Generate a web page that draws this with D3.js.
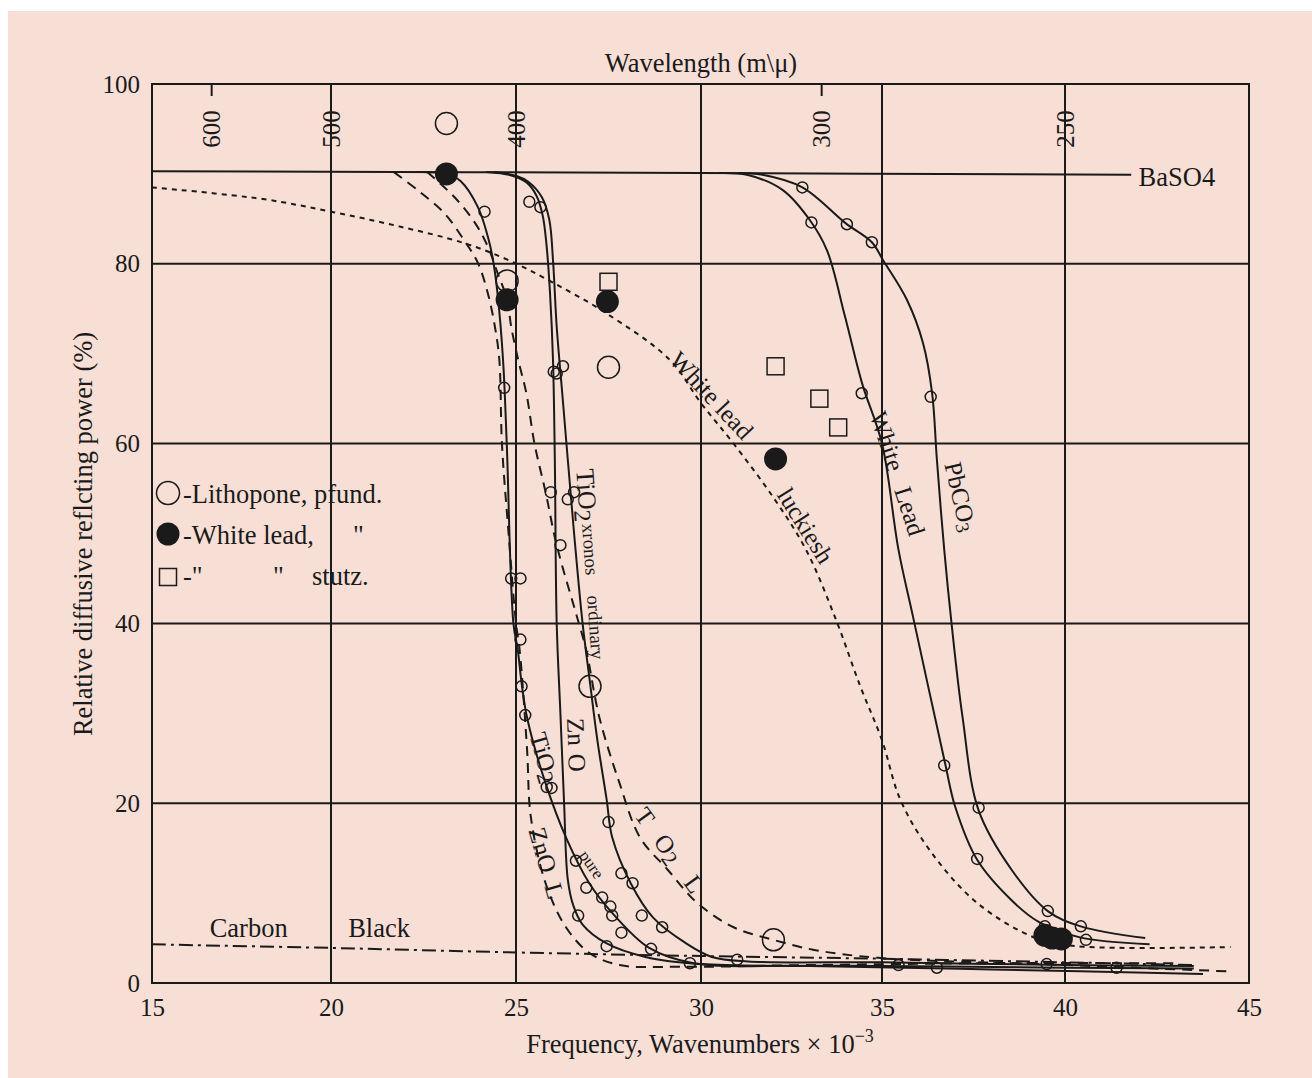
<!DOCTYPE html>
<html>
<head>
<meta charset="utf-8" />
<title>Relative diffusive reflecting power</title>
<script src="https://d3js.org/d3.v7.min.js"></script>
<style>
  body { margin: 0px; background-color: white; }
  text { font-family: "Liberation Serif", "Times New Roman", serif; fill: #1a1a1a; }
</style>
</head>
<body>
<svg id="chart"></svg>
<script>
// ---- data (frequency in wavenumbers x 10^-3, reflectance %) ----
var xTicks = [15, 20, 25, 30, 35, 40, 45];
var yTicks = [0, 20, 40, 60, 80, 100];
var wavelengthTicks = [600, 500, 400, 300, 250];

var baso4 = [[15, 90.3], [30, 90.1], [41.8, 89.9]];
var tio2Pure = [[22.3, 90.2], [23.12, 90.0], [23.5, 89.2], [23.97, 86.3], [24.24, 83], [24.38, 80.4], [24.5, 76.7],
  [24.65, 69.3], [24.75, 60], [24.93, 40], [25.05, 37], [25.15, 33.4], [25.3, 29.5], [25.8, 22.2], [26.35, 16.2],
  [26.98, 11.1], [27.6, 7.8], [28.6, 3.9], [29.8, 2.2], [33, 1.9], [38, 1.5], [43.75, 1.0]];
var zno = [[24.2, 90.2], [24.9, 89.8], [25.3, 89.0], [25.55, 87.6], [25.72, 85.4], [25.82, 82.3], [25.92, 76.7],
  [26.0, 69.3], [26.05, 58], [26.1, 40], [26.2, 30], [26.3, 20], [26.4, 11.5], [26.55, 8.6], [26.8, 6.5],
  [27.45, 4.4], [28.5, 2.9], [30.0, 2.1], [35, 1.9], [40, 1.7], [43.5, 1.6]];
var tio2Xronos = [[24.4, 90.2], [25.0, 89.8], [25.34, 89.1], [25.7, 87.4], [25.9, 84.9], [26.0, 80.4], [26.1, 73],
  [26.25, 65.6], [26.4, 58.2], [26.57, 50], [26.8, 40], [27.0, 33.4], [27.2, 27], [27.45, 20.4], [27.6, 16.2],
  [28.1, 11.1], [28.7, 7.3], [29.6, 4.4], [30.3, 2.9], [31.3, 2.4], [35, 2.3], [40, 2.0], [43.5, 1.9]];
var znoL = [[21.7, 90.2], [22.4, 88], [23.07, 85.6], [23.6, 82.6], [23.97, 80.1], [24.24, 76.7], [24.43, 73],
  [24.55, 69.3], [24.62, 60], [24.8, 50], [25.0, 40], [25.1, 37], [25.3, 25.9], [25.4, 18.5], [25.8, 11.1],
  [26.35, 6.2], [27.0, 3.3], [27.8, 2.0], [29.4, 1.8], [33, 2.0], [38, 2.2], [43, 2.2]];
var tio2L = [[22.6, 90.2], [23.34, 87.4], [23.9, 84.5], [24.24, 81.9], [24.5, 79], [24.76, 76], [24.87, 73],
  [25.06, 69.3], [25.28, 65.6], [25.5, 60], [25.8, 54.6], [26.1, 48.7], [26.7, 40], [26.9, 37], [27.25, 29.6],
  [27.8, 22.2], [28.35, 16.2], [29.1, 12.6], [29.9, 8.9], [30.9, 6.2], [32.0, 4.8], [33.1, 3.7], [34.9, 2.8],
  [40, 2.0], [44.4, 1.3]];
var whiteLead = [[30.5, 90.1], [31.27, 89.9], [32.26, 88.2], [33.0, 84.9], [33.48, 81.5], [33.98, 74.1],
  [34.45, 66.7], [35.0, 60], [35.45, 48.2], [35.85, 40.7], [36.72, 24.5], [37.0, 19.6], [37.6, 13.7],
  [38.54, 9.2], [39.28, 6.8], [40.38, 5.1], [42.3, 4.3]];
var pbco3 = [[31.0, 90.1], [31.7, 89.9], [32.8, 88.5], [34.0, 84.5], [34.72, 82.4], [35.03, 80.4], [35.68, 76],
  [36.12, 71.2], [36.37, 65.6], [36.5, 58.2], [36.7, 48.2], [36.9, 40], [37.2, 29.6], [37.64, 19.2], [38.54, 12.6],
  [39.53, 8.0], [40.43, 6.3], [42.18, 5.0]];
var luckiesh = [[15, 88.5], [18.1, 87.2], [20, 85.8], [21.8, 84.2], [23.6, 82.3], [24.8, 80.4], [26.0, 77.9],
  [27.44, 74.5], [29.16, 69.3], [30.0, 64.5], [30.9, 60], [32.0, 54], [32.9, 48.2], [33.73, 40.4], [34.4, 33],
  [35.0, 27], [35.5, 20.4], [36.3, 14.8], [37.6, 8.9], [39.2, 5.0], [40.3, 4.1], [44.5, 4.0]];
var carbonBlack = [[15, 4.3], [20, 3.9], [25, 3.4], [30, 3.0], [35, 2.7], [40, 2.3], [43.5, 2.0]];

var smallCircles = [[24.15, 85.8], [25.36, 86.9], [25.66, 86.3], [24.68, 66.2], [26.02, 68.0], [26.1, 67.8],
  [26.27, 68.6], [25.94, 54.6], [26.57, 54.6], [26.4, 53.8], [26.2, 48.7], [24.87, 45.0], [25.12, 45.0],
  [25.12, 38.2], [25.15, 33.0], [25.25, 29.8], [25.83, 21.8], [25.96, 21.7], [26.62, 13.6], [26.9, 10.6],
  [27.33, 9.5], [27.55, 8.5], [27.6, 7.5], [27.85, 5.6], [28.65, 3.8], [26.68, 7.5], [27.45, 4.1], [29.7, 2.2],
  [27.5, 17.9], [27.85, 12.2], [28.15, 11.1], [28.4, 7.5], [28.95, 6.2], [31.0, 2.6], [32.8, 88.5], [33.05, 84.6],
  [34.03, 84.4], [34.72, 82.4], [34.44, 65.6], [36.33, 65.2], [36.7, 24.2], [37.64, 19.5], [37.6, 13.8],
  [39.53, 8.0], [39.45, 6.3], [40.43, 6.3], [40.57, 4.8], [35.45, 2.0], [36.5, 1.7], [39.5, 2.1], [41.4, 1.7]];
var lithopone = [[23.12, 95.6], [24.76, 78.1], [27.5, 68.5], [27.0, 33.0], [32.0, 4.8]];
var whiteLeadPfund = [[23.12, 90.0], [24.76, 76.0], [27.47, 75.8], [32.06, 58.3], [39.45, 5.3], [39.65, 5.0], [39.9, 4.9]];
var whiteLeadStutz = [[27.5, 78.0], [32.06, 68.6], [33.27, 65.0], [33.79, 61.8]];

// ---- layout ----
var width = 1312, height = 1078;
var svg = d3.select("#chart").attr("width", width).attr("height", height);
var ink = "#1a1a1a";
var bigFont = "26.5px";

// the original grid is hand drawn, so the scale follows its grid lines
var x = d3.scaleLinear().domain(xTicks).range([152, 331, 516, 701, 882, 1065, 1249]);
var y = d3.scaleLinear().domain([0, 100]).range([983, 84]);

svg.append("rect").attr("x", 8).attr("y", 11).attr("width", width - 8).attr("height", height - 11)
  .attr("fill", "#f7dfd5");

// grid
var grid = svg.append("g").attr("stroke", ink).attr("stroke-width", 2);
grid.selectAll(".vg").data(xTicks.slice(1, -1)).enter().append("line")
  .attr("x1", d => x(d)).attr("x2", d => x(d)).attr("y1", y(0)).attr("y2", y(100));
grid.selectAll(".hg").data(yTicks.slice(1, -1)).enter().append("line")
  .attr("x1", x(15)).attr("x2", x(45)).attr("y1", d => y(d)).attr("y2", d => y(d));
svg.append("rect").attr("x", x(15)).attr("y", y(100)).attr("width", x(45) - x(15)).attr("height", y(0) - y(100))
  .attr("fill", "none").attr("stroke", ink).attr("stroke-width", 2);

// axes
var xAxis = d3.axisBottom(x).tickValues(xTicks).tickSize(0).tickPadding(15);
svg.append("g").attr("transform", "translate(0," + y(0) + ")").call(xAxis)
  .call(g => g.select(".domain").remove())
  .selectAll("text").style("font-size", "25px").attr("fill", ink);

var yAxis = d3.axisLeft(y).tickValues(yTicks).tickSize(0).tickPadding(12);
svg.append("g").attr("transform", "translate(" + x(15) + ",0)").call(yAxis)
  .call(g => g.select(".domain").remove())
  .selectAll("text").style("font-size", "25px").attr("fill", ink);

// top wavelength axis (wavelength in m-mu -> wavenumbers x 10^-3)
var waveAxis = svg.append("g");
waveAxis.selectAll("line").data(wavelengthTicks).enter().append("line")
  .attr("x1", d => x(1e4 / d)).attr("x2", d => x(1e4 / d))
  .attr("y1", y(100)).attr("y2", y(100) + 12)
  .attr("stroke", ink).attr("stroke-width", 2);
waveAxis.selectAll("text").data(wavelengthTicks).enter().append("text")
  .attr("transform", d => "translate(" + x(1e4 / d) + "," + (y(100) + 45) + ") rotate(-90)")
  .attr("text-anchor", "middle").attr("dominant-baseline", "central")
  .style("font-size", "25px").text(d => d);

svg.append("text").attr("x", 701).attr("y", 72).attr("text-anchor", "middle")
  .style("font-size", bigFont).text("Wavelength (m\\\u03bc)");

var xl = svg.append("text").attr("x", 700).attr("y", 1053).attr("text-anchor", "middle").style("font-size", bigFont);
xl.append("tspan").text("Frequency, Wavenumbers \u00d7 10");
xl.append("tspan").attr("dy", -11).style("font-size", "18px").text("\u22123");

svg.append("text").attr("transform", "translate(83,534) rotate(-90)")
  .attr("text-anchor", "middle").attr("dominant-baseline", "central")
  .style("font-size", bigFont).text("Relative diffusive reflcting power (%)");

// curves
var line = d3.line().x(d => x(d[0])).y(d => y(d[1])).curve(d3.curveCatmullRom.alpha(0.5));
var curves = [
  {data: baso4, dash: null},
  {data: tio2Pure, dash: null},
  {data: zno, dash: null},
  {data: tio2Xronos, dash: null},
  {data: whiteLead, dash: null},
  {data: pbco3, dash: null},
  {data: znoL, dash: "10,7"},
  {data: tio2L, dash: "10,7"},
  {data: luckiesh, dash: "5,5"},
  {data: carbonBlack, dash: "14,5,3,5"}
];
svg.append("g").selectAll("path").data(curves).enter().append("path")
  .attr("d", d => line(d.data))
  .attr("fill", "none").attr("stroke", ink).attr("stroke-width", 2)
  .attr("stroke-dasharray", d => d.dash);

// markers
var marks = svg.append("g");
marks.selectAll(".sc").data(smallCircles).enter().append("circle")
  .attr("cx", d => x(d[0])).attr("cy", d => y(d[1])).attr("r", 5.5)
  .attr("fill", "none").attr("stroke", ink).attr("stroke-width", 1.5);
marks.selectAll(".lc").data(lithopone).enter().append("circle")
  .attr("cx", d => x(d[0])).attr("cy", d => y(d[1])).attr("r", 11)
  .attr("fill", "none").attr("stroke", ink).attr("stroke-width", 1.5);
marks.selectAll(".fc").data(whiteLeadPfund).enter().append("circle")
  .attr("cx", d => x(d[0])).attr("cy", d => y(d[1])).attr("r", 11.5)
  .attr("fill", ink);
marks.selectAll(".sq").data(whiteLeadStutz).enter().append("rect")
  .attr("x", d => x(d[0]) - 8.5).attr("y", d => y(d[1]) - 8.5).attr("width", 17).attr("height", 17)
  .attr("fill", "none").attr("stroke", ink).attr("stroke-width", 1.5);

// curve labels: parts are [text, size, dy, dx]
var labels = [
  {x: 30.3, y: 65.4, angle: 47, parts: [["White lead", 25]]},
  {x: 32.9, y: 50.9, angle: 58, parts: [["luckiesh", 25]]},
  {x: 27.05, y: 46.6, angle: 86, parts: [["TiO", 26], ["2", 24, 6], ["xronos", 19, -6, 2], ["ordinary", 19, 0, 20]]},
  {x: 26.65, y: 26.5, angle: 88, parts: [["Zn", 25], ["O", 25, 0, 8]]},
  {x: 25.78, y: 25.1, angle: 74, parts: [["TiO", 25], ["2", 23, 5]]},
  {x: 25.84, y: 13.35, angle: 74, parts: [["ZnO", 25], ["L", 25, 0, 12]]},
  {x: 27.05, y: 13.2, angle: 55, parts: [["pure", 17]]},
  {x: 29.16, y: 14.8, angle: 54, parts: [["T", 25], ["O", 25, 0, 18], ["2", 22, 5], ["L", 25, -5, 22]]},
  {x: 35.44, y: 56.7, angle: 72, parts: [["White", 25], ["Lead", 25, 0, 18]]},
  {x: 37.16, y: 54.1, angle: 77, parts: [["PbCO", 25], ["3", 19, 5]]}
];
labels.forEach(function(l) {
  var t = svg.append("text")
    .attr("transform", "translate(" + x(l.x) + "," + y(l.y) + ") rotate(" + l.angle + ")")
    .attr("text-anchor", "middle").attr("dominant-baseline", "central");
  l.parts.forEach(function(p) {
    t.append("tspan").style("font-size", p[1] + "px")
      .attr("dy", p[2] || 0).attr("dx", p[3] || 0).text(p[0]);
  });
});

svg.append("text").attr("x", x(42.0)).attr("y", y(88.66)).style("font-size", bigFont).text("BaSO4");
svg.append("text").attr("x", x(17.7)).attr("y", y(5.1)).attr("text-anchor", "middle").style("font-size", bigFont).text("Carbon");
svg.append("text").attr("x", x(21.3)).attr("y", y(5.1)).attr("text-anchor", "middle").style("font-size", bigFont).text("Black");

// legend
var legend = svg.append("g").attr("transform", "translate(168,0)");
legend.append("circle").attr("cx", 0).attr("cy", 493).attr("r", 11.5)
  .attr("fill", "none").attr("stroke", ink).attr("stroke-width", 1.5);
legend.append("circle").attr("cx", 0).attr("cy", 534).attr("r", 11.5).attr("fill", ink);
legend.append("rect").attr("x", -8.5).attr("y", 568.5).attr("width", 17).attr("height", 17)
  .attr("fill", "none").attr("stroke", ink).attr("stroke-width", 1.5);
var legendText = [
  ["-Lithopone, pfund.", 15, 503], ["-White lead,", 15, 544], ["\"", 185, 544],
  ["-\"", 15, 585], ["\"", 105, 585], ["stutz.", 144, 585]
];
legend.selectAll(".lt").data(legendText).enter().append("text")
  .attr("x", d => d[1]).attr("y", d => d[2]).style("font-size", bigFont).text(d => d[0]);
</script>
</body>
</html>
